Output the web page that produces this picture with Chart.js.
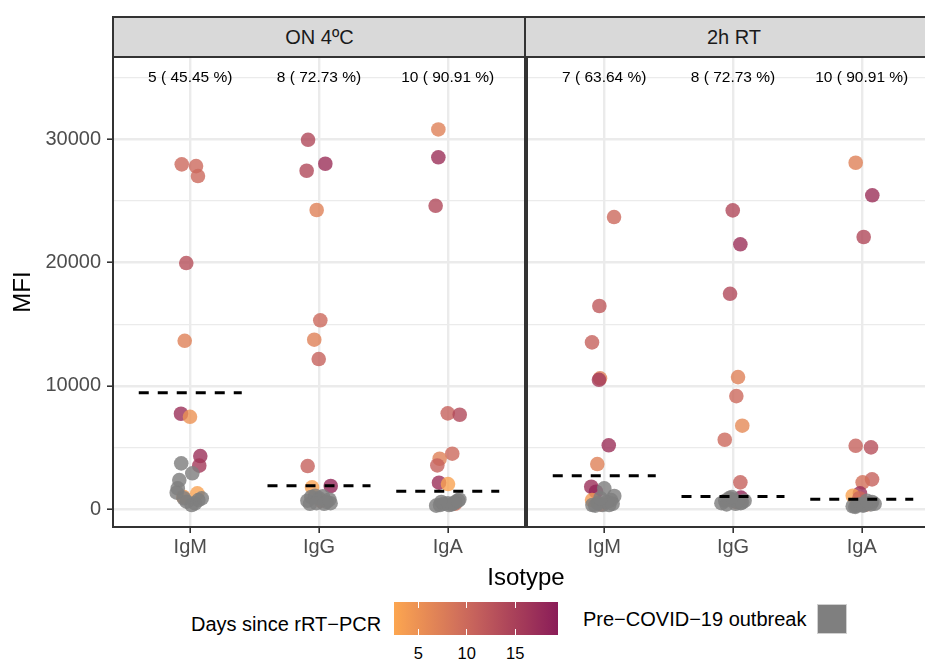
<!DOCTYPE html>
<html>
<head>
<meta charset="utf-8">
<script src="https://cdn.jsdelivr.net/npm/chart.js@4/dist/chart.umd.min.js"></script>
<style>
  html, body { margin: 0; padding: 0; background: #fff; }
  body { width: 925px; height: 661px; overflow: hidden; position: relative;
         font-family: "Liberation Sans", Arial, sans-serif; }
  canvas { position: absolute; }
  .strip { position: absolute; top: 16px; height: 42px; box-sizing: border-box;
           background: #D9D9D9; border: 2px solid #333; display: flex;
           align-items: center; justify-content: center; font-size: 20px; color: #1A1A1A; }
  .txt { position: absolute; white-space: nowrap; color: #000; }
</style>
</head>
<body>
<div class="strip" style="left:112px; width:415px;" id="strip0"></div>
<div class="strip" style="left:524px; width:420px;" id="strip1"></div>
<canvas id="panel0" width="527" height="520" style="left:0; top:50px;"></canvas>
<canvas id="panel1" width="414" height="520" style="left:525px; top:50px;"></canvas>
<div class="txt" style="left:0; width:1052px; top:562px; font-size:24px; line-height:29px; text-align:center;">Isotype</div>
<div class="txt" style="left:191px; top:612px; font-size:20px; line-height:24px;">Days since rRT−PCR</div>
<div id="colorbar" style="position:absolute; left:394px; top:602px; width:164px; height:33px;"></div>
<div id="cbLabels"></div>
<div class="txt" style="left:583px; top:607px; font-size:20px; line-height:24px;">Pre−COVID−19 outbreak</div>
<div style="position:absolute; left:817px; top:604px; width:30px; height:30px; box-sizing:border-box; background:#7F7F7F; border:1px solid #D0D0D0;"></div>

<script>
// facets and categories
const conditions = ["ON 4ºC", "2h RT"];
const isotypes = ["IgM", "IgG", "IgA"];
const positiveLabels = [
  ["5 ( 45.45 %)", "8 ( 72.73 %)", "10 ( 90.91 %)"],
  ["7 ( 63.64 %)", "8 ( 72.73 %)", "10 ( 90.91 %)"]
];
const labelY = 35000;
const yTicks = [0, 5000, 10000, 15000, 20000, 25000, 30000, 35000];
const dayTicks = [5, 10, 15];
const dayRange = [2.5, 19.4];

// cut-off per isotype
const onCutoffs = [9450, 1910, 1460];
const rtCutoffs = [2720, 1050, 810];

// ON 4ºC - COVID-19 samples (x = isotype index + jitter)
const onPosX = [-0.066, 0.045, 0.060, -0.031, -0.043, -0.072, -0.002, 0.078, 0.070, 0.055, -0.054,
  0.915, 1.049, 0.904, 0.982, 1.010, 0.963, 0.998, 0.912, 0.946, 1.091, 1.014,
  1.927, 1.927, 1.906, 2.000, 2.093, 2.035, 1.937, 1.919, 1.932, 2.002, 2.056];
const onPosY = [27960, 27820, 27010, 19960, 13660, 7750, 7500, 4320, 3540, 1300, 1020,
  29950, 28010, 27440, 24260, 15320, 13750, 12180, 3510, 1780, 1890, 700,
  30790, 28530, 24600, 7780, 7670, 4510, 4100, 3560, 2160, 2050, 450];
const onPosDays = [10, 10, 10, 13, 7, 17, 5, 17, 16, 3, 4,
  14, 17, 14, 7, 10, 7, 11, 11, 3, 18, 8,
  7, 17, 14, 11, 14, 10, 7, 11, 17, 3, 9];

// ON 4ºC - pre-COVID samples
const onPreX = [-0.070, 0.016, -0.085, -0.097, -0.105, -0.028, 0.037, 0.089, 0.011, 0.063, -0.050,
  0.91, 0.94, 0.97, 1.00, 1.03, 1.06, 1.09, 0.93, 0.98, 1.04, 1.08,
  1.91, 1.94, 1.97, 2.00, 2.03, 2.06, 2.09, 1.95, 2.01, 2.05, 2.08];
const onPreY = [3730, 2920, 2370, 1700, 1350, 620, 490, 890, 350, 750, 900,
  700, 1000, 1100, 900, 1050, 600, 500, 450, 500, 450, 800,
  300, 350, 450, 500, 400, 600, 800, 600, 350, 500, 700];

// 2h RT - COVID-19 samples
const rtPosX = [0.076, -0.038, -0.095, -0.033, -0.041, 0.035, -0.054, -0.101, -0.064, -0.095, -0.025,
  0.998, 1.057, 0.977, 1.039, 1.026, 1.072, 0.936, 1.057, 1.062, 0.969, 1.023,
  1.953, 2.082, 2.015, 1.953, 2.072, 2.080, 2.007, 1.986, 1.930, 1.981, 2.040];
const rtPosY = [23690, 16480, 13530, 10620, 10500, 5190, 3670, 1830, 1430, 750, 400,
  24230, 21480, 17470, 10720, 9180, 6780, 5640, 2190, 950, 800, 600,
  28090, 25450, 22070, 5150, 5020, 2430, 2190, 1300, 1100, 900, 400];
const rtPosDays = [10, 12, 11, 7, 16, 17, 7, 17, 18, 4, 9,
  14, 17, 14, 7, 10, 6, 10, 11, 18, 4, 9,
  7, 17, 14, 11, 13, 11, 9, 17, 3, 10, 8];

// 2h RT - pre-COVID samples
const rtPreX = [0.000, 0.078, 0.053, -0.092, -0.014, 0.038, -0.051, 0.020, -0.070, 0.065, -0.030,
  0.91, 0.94, 0.97, 1.00, 1.03, 1.06, 1.09, 0.95, 1.02, 1.07, 0.99,
  1.93, 1.96, 1.99, 2.02, 2.05, 2.08, 2.10, 1.95, 2.01, 2.07, 2.04];
const rtPreY = [1700, 1080, 750, 350, 350, 350, 490, 600, 300, 450, 900,
  500, 700, 900, 800, 600, 500, 700, 400, 450, 550, 1000,
  250, 300, 400, 350, 500, 600, 450, 200, 300, 400, 700];

// colour scale for days
const colourStops = [[0, [252, 166, 80]], [0.45, [203, 104, 92]], [1, [138, 28, 88]]];
function dayColour(d, alpha) {
  let t = (d - dayRange[0]) / (dayRange[1] - dayRange[0]);
  t = Math.max(0, Math.min(1, t));
  let i = 0;
  while (i < colourStops.length - 2 && t > colourStops[i + 1][0]) i++;
  const [t0, c0] = colourStops[i];
  const [t1, c1] = colourStops[i + 1];
  const f = (t - t0) / (t1 - t0);
  const c = c0.map((v, k) => Math.round(v + (c1[k] - v) * f));
  return alpha === undefined ? `rgb(${c.join(",")})` : `rgba(${c.join(",")},${alpha})`;
}

Chart.defaults.font.family = '"Liberation Sans", Arial, sans-serif';

const panelBorder = {
  id: "panelBorder",
  afterDraw(chart) {
    const { ctx, chartArea: a } = chart;
    ctx.save();
    ctx.strokeStyle = "#333";
    ctx.lineWidth = 2;
    ctx.strokeRect(a.left, a.top, a.right - a.left, a.bottom - a.top);
    ctx.restore();
  }
};

const countLabels = {
  id: "countLabels",
  afterDatasetsDraw(chart, args, opts) {
    const { ctx, scales } = chart;
    ctx.save();
    ctx.font = '15.5px "Liberation Sans", Arial, sans-serif';
    ctx.fillStyle = "#000";
    ctx.textAlign = "center";
    ctx.textBaseline = "middle";
    opts.labels.forEach((txt, i) => {
      ctx.fillText(txt, scales.x.getPixelForValue(i), scales.y.getPixelForValue(labelY));
    });
    ctx.restore();
  }
};

function noPad(s) {
  s.paddingTop = 0;
  s.paddingBottom = 0;
  s.paddingLeft = 0;
  s.paddingRight = 0;
}

function makePanel(canvasId, p, posX, posY, posDays, preX, preY, cutoffs, labels) {
  const datasets = [];
  cutoffs.forEach((c, i) => {
    datasets.push({
      data: [{ x: i - 0.4, y: c }, { x: i + 0.4, y: c }],
      showLine: true,
      borderColor: "#000",
      borderWidth: 3,
      borderDash: [10, 9],
      pointRadius: 0
    });
  });
  datasets.push({
    data: preX.map((x, i) => ({ x: x, y: preY[i] })),
    backgroundColor: "rgba(127,127,127,0.82)",
    borderWidth: 0,
    pointRadius: 7.3
  });
  datasets.push({
    data: posX.map((x, i) => ({ x: x, y: posY[i] })),
    backgroundColor: posDays.map(d => dayColour(d, 0.8)),
    borderWidth: 0,
    pointRadius: 7.3
  });

  const first = p === 0;
  return new Chart(document.getElementById(canvasId).getContext("2d"), {
    type: "scatter",
    data: { datasets: datasets },
    options: {
      responsive: false,
      animation: false,
      events: [],
      layout: {
        autoPadding: false,
        padding: { top: 7, left: first ? 0 : 2, right: first ? 2 : 0, bottom: 0 }
      },
      plugins: {
        legend: { display: false },
        tooltip: { enabled: false },
        countLabels: { labels: labels }
      },
      scales: {
        x: {
          type: "linear",
          min: -0.6,
          max: 2.6,
          afterBuildTicks: s => { s.ticks = isotypes.map((_, i) => ({ value: i })); },
          afterFit: s => { s.height = 43; noPad(s); },
          ticks: {
            callback: v => isotypes[v],
            color: "#4D4D4D",
            font: { size: 20 },
            padding: 2,
            maxRotation: 0,
            autoSkip: false
          },
          grid: { color: "#EBEBEB", lineWidth: 2.4, tickLength: 6, tickColor: "#333", tickWidth: 1.6 },
          border: { display: false }
        },
        y: {
          min: -1430,
          max: 36660,
          afterBuildTicks: s => { s.ticks = yTicks.map(v => ({ value: v })); },
          afterFit: s => { s.width = first ? 113 : 0; noPad(s); },
          ticks: {
            display: first,
            callback: v => (v % 10000 === 0 ? v : ""),
            color: "#4D4D4D",
            font: { size: 20 },
            padding: 6,
            autoSkip: false
          },
          title: {
            display: first,
            text: "MFI",
            color: "#000",
            font: { size: 24 },
            padding: { top: 9, bottom: 0 }
          },
          grid: {
            color: "#EBEBEB",
            lineWidth: c => (c.tick && c.tick.value % 10000 === 0 ? 2.4 : 1.2),
            drawTicks: first,
            tickLength: 6,
            tickColor: c => (c.tick && c.tick.value % 10000 === 0 ? "#333" : "rgba(0,0,0,0)"),
            tickWidth: 1.6
          },
          border: { display: false }
        }
      }
    },
    plugins: [countLabels, panelBorder]
  });
}

makePanel("panel0", 0, onPosX, onPosY, onPosDays, onPreX, onPreY, onCutoffs, positiveLabels[0]);
makePanel("panel1", 1, rtPosX, rtPosY, rtPosDays, rtPreX, rtPreY, rtCutoffs, positiveLabels[1]);

// strips
conditions.forEach((c, i) => { document.getElementById("strip" + i).textContent = c; });

// colour bar legend
const bar = document.getElementById("colorbar");
const gradStops = [];
for (let k = 0; k <= 10; k++) {
  const d = dayRange[0] + (dayRange[1] - dayRange[0]) * k / 10;
  gradStops.push(`${dayColour(d)} ${k * 10}%`);
}
bar.style.background = `linear-gradient(to right, ${gradStops.join(", ")})`;
const cbLabels = document.getElementById("cbLabels");
dayTicks.forEach(d => {
  const pos = (d - dayRange[0]) / (dayRange[1] - dayRange[0]) * 164;
  ["0px", "27px"].forEach(top => {
    const t = document.createElement("div");
    t.style.cssText = `position:absolute; left:${pos - 0.5}px; top:${top}; width:1px; height:6px; background:#fff;`;
    bar.appendChild(t);
  });
  const lab = document.createElement("div");
  lab.className = "txt";
  lab.style.cssText += `left:${394 + pos - 20}px; width:40px; text-align:center; top:643px; font-size:16.5px; line-height:20px;`;
  lab.textContent = d;
  cbLabels.appendChild(lab);
});
</script>
</body>
</html>
